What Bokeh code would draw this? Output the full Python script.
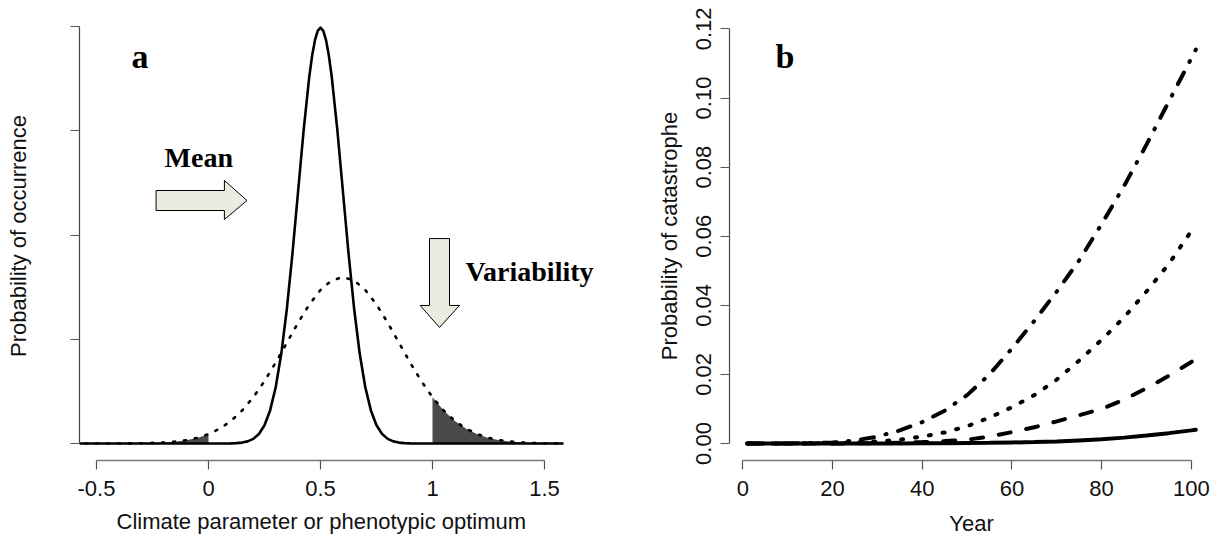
from bokeh.plotting import figure
from bokeh.layouts import row
from bokeh.models import FixedTicker, Label, Range1d, Title
from bokeh.embed import file_html
from bokeh.resources import INLINE

# ---------------- Panel a data ----------------
# narrow (solid) distribution: phenotypic tolerance
optimum_x = [-0.6, 0.1, 0.125, 0.15, 0.175, 0.2, 0.225, 0.25, 0.275, 0.3, 0.325, 0.35,
             0.375, 0.4, 0.425, 0.45, 0.4625, 0.475, 0.4875, 0.5, 0.5125, 0.525, 0.5375,
             0.55, 0.575, 0.6, 0.625, 0.65, 0.675, 0.7, 0.725, 0.75, 0.775, 0.8, 0.825,
             0.85, 0.875, 0.9, 1.585]
optimum_y = [0.0, 0.001, 0.0035, 0.0087, 0.0203, 0.0443, 0.0909, 0.1753, 0.3174, 0.5399,
             0.8628, 1.2952, 1.8265, 2.4197, 3.0114, 3.5207, 3.7186, 3.8667, 3.9584,
             3.9894, 3.9584, 3.8667, 3.7186, 3.5207, 3.0114, 2.4197, 1.8265, 1.2952,
             0.8628, 0.5399, 0.3174, 0.1753, 0.0909, 0.0443, 0.0203, 0.0087, 0.0035,
             0.001, 0.0]
# wide (dotted) distribution: climate parameter
climate_x = [-0.6, -0.5, -0.4, -0.3, -0.2, -0.15, -0.1, -0.05, 0.0, 0.05, 0.1, 0.15, 0.2,
             0.25, 0.3, 0.35, 0.4, 0.45, 0.5, 0.55, 0.6, 0.65, 0.7, 0.75, 0.8, 0.85,
             0.9, 0.95, 1.0, 1.05, 1.1, 1.15, 1.2, 1.25, 1.3, 1.35, 1.4, 1.45, 1.5, 1.585]
climate_y = [0.0, 0.0001, 0.0005, 0.0024, 0.0095, 0.018, 0.032, 0.054, 0.090, 0.142,
             0.216, 0.316, 0.444, 0.599, 0.777, 0.968, 1.159, 1.333, 1.473, 1.564,
             1.596, 1.564, 1.473, 1.333, 1.159, 0.968, 0.777, 0.599, 0.444, 0.316,
             0.216, 0.142, 0.090, 0.054, 0.032, 0.018, 0.0095, 0.0049, 0.0024, 0.0006]
a_xticks = [-0.5, 0, 0.5, 1, 1.5]
a_xtick_labels = ["-0.5", "0", "0.5", "1", "1.5"]
a_yticks = [0, 1, 2, 3, 4]
lower_limit = 0.0
upper_limit = 1.0

# ---------------- Panel b data ----------------
years = [1, 10, 20, 25, 30, 35, 40, 45, 50, 55, 60, 65, 70, 75, 80, 85, 90, 95, 100, 101]
p_solid = [0, 0, 0, 0, 0, 0, 0.00005, 0.0001, 0.00015, 0.0002, 0.0003, 0.0004, 0.0006,
           0.0009, 0.0012, 0.0017, 0.0023, 0.0030, 0.0038, 0.0040]
p_dashed = [0, 0, 0, 0.00005, 0.0001, 0.0002, 0.0004, 0.0007, 0.0011, 0.0020, 0.0033,
            0.0047, 0.0064, 0.0082, 0.0100, 0.0127, 0.0160, 0.0196, 0.0236, 0.0245]
p_dotted = [0, 0, 0.0001, 0.0003, 0.0006, 0.0011, 0.0020, 0.0032, 0.0050, 0.0075, 0.0105,
            0.0140, 0.0185, 0.0240, 0.0300, 0.0365, 0.0440, 0.0520, 0.0615, 0.0630]
p_dotdash = [0, 0, 0.0003, 0.0009, 0.0020, 0.0038, 0.0062, 0.0095, 0.0140, 0.0200, 0.0275,
             0.0355, 0.0440, 0.0530, 0.0635, 0.0745, 0.0865, 0.0990, 0.1115, 0.1140]
b_xticks = [0, 20, 40, 60, 80, 100]
b_yticks = [0.0, 0.02, 0.04, 0.06, 0.08, 0.10, 0.12]
b_ytick_labels = ["0.00", "0.02", "0.04", "0.06", "0.08", "0.10", "0.12"]

# ---------------- styling helpers ----------------
SANS = "Liberation Sans"
SERIF = "Liberation Serif"


def style_axes(p):
    p.outline_line_color = None
    p.xgrid.visible = False
    p.ygrid.visible = False
    p.background_fill_color = "white"
    p.border_fill_color = "white"
    for ax in (p.xaxis[0], p.yaxis[0]):
        ax.major_tick_in = 0
        ax.major_tick_out = 9
        ax.minor_tick_line_color = None
        ax.major_label_text_font = SANS
        ax.major_label_text_font_size = "22px"
        ax.major_label_text_color = "#111111"
        ax.axis_label_text_font = SANS
        ax.axis_label_text_font_size = "22px"
        ax.axis_label_text_font_style = "normal"
        ax.axis_label_text_color = "#111111"
    xa = p.xaxis[0]
    xa.axis_line_color = "#777777"
    xa.axis_line_width = 1.5
    xa.major_tick_line_color = "#555555"
    xa.major_tick_line_width = 1.2
    xa.major_label_standoff = 11
    xa.axis_label_standoff = 12
    ya = p.yaxis[0]
    ya.axis_line_color = "#444444"
    ya.axis_line_width = 1.2
    ya.major_tick_line_color = "#555555"
    ya.major_tick_line_width = 1.2


# ---------------- Panel a ----------------
pa = figure(frame_width=524, frame_height=449,
            x_range=Range1d(-0.5759, 1.7634), y_range=Range1d(-0.163, 4.144),
            min_border_left=79, min_border_right=0, min_border_top=11, min_border_bottom=76,
            output_backend="svg", toolbar_location=None,
            y_axis_label="Probability of occurrence")
style_axes(pa)
pa.xaxis[0].ticker = FixedTicker(ticks=a_xticks)
pa.xaxis[0].major_label_overrides = {t: l for t, l in zip(a_xticks, a_xtick_labels)}
pa.xaxis[0].bounds = (a_xticks[0], a_xticks[-1])
pa.yaxis[0].ticker = FixedTicker(ticks=a_yticks)
pa.yaxis[0].major_label_overrides = {t: "" for t in a_yticks}
pa.yaxis[0].major_label_standoff = 0
pa.yaxis[0].axis_label_standoff = 40
pa.yaxis[0].bounds = (a_yticks[0], a_yticks[-1])
# x-axis title centred under the data region (frame is wider to leave room for text)
pa.add_layout(Title(text="Climate parameter or phenotypic optimum", align="left",
                    offset=37, standoff=17, text_font=SANS, text_font_size="22px",
                    text_font_style="normal", text_color="#111111"), "below")

lo_x = [x for x in climate_x if x <= lower_limit]
lo_y = [y for x, y in zip(climate_x, climate_y) if x <= lower_limit]
hi_x = [x for x in climate_x if x >= upper_limit]
hi_y = [y for x, y in zip(climate_x, climate_y) if x >= upper_limit]
pa.varea(x=lo_x, y1=[0] * len(lo_x), y2=lo_y, fill_color="#4a4a4a")
pa.varea(x=hi_x, y1=[0] * len(hi_x), y2=hi_y, fill_color="#4a4a4a")
pa.line(climate_x, climate_y, line_color="black", line_width=2.6, line_dash="2 9",
        line_cap="round")
pa.line(optimum_x, optimum_y, line_color="black", line_width=2.6, line_join="round")

# annotation arrows (data units of panel a)
mean_arrow_x = [-0.234, 0.071, 0.071, 0.172, 0.071, 0.071, -0.234]
mean_arrow_y = [2.235, 2.235, 2.149, 2.331, 2.523, 2.427, 2.427]
var_arrow_x = [0.9866, 1.0759, 1.0759, 1.1205, 1.0313, 0.9451, 0.9866]
var_arrow_y = [1.966, 1.966, 1.324, 1.324, 1.113, 1.324, 1.324]
pa.patch(mean_arrow_x, mean_arrow_y, fill_color="#ecebe0", line_color="black", line_width=1)
pa.patch(var_arrow_x, var_arrow_y, fill_color="#ecebe0", line_color="black", line_width=1)

pa.add_layout(Label(x=-0.344, y=3.715, text="a", text_font=SERIF, text_font_style="bold",
                    text_font_size="34px", text_baseline="alphabetic", text_align="left",
                    text_color="black"))
pa.add_layout(Label(x=-0.196, y=2.747, text="Mean", text_font=SERIF, text_font_style="bold",
                    text_font_size="28px", text_baseline="alphabetic", text_align="left",
                    text_color="black"))
pa.add_layout(Label(x=1.147, y=1.653, text="Variability", text_font=SERIF,
                    text_font_style="bold", text_font_size="28px",
                    text_baseline="alphabetic", text_align="left", text_color="black"))

# ---------------- Panel b ----------------
pb = figure(frame_width=484, frame_height=449,
            x_range=Range1d(-2.966, 104.95), y_range=Range1d(-0.00492, 0.12504),
            min_border_left=126, min_border_right=0, min_border_top=11, min_border_bottom=76,
            output_backend="svg", toolbar_location=None,
            x_axis_label="Year", y_axis_label="Probability of catastrophe")
style_axes(pb)
pb.xaxis[0].ticker = FixedTicker(ticks=b_xticks)
pb.xaxis[0].bounds = (b_xticks[0], b_xticks[-1])
pb.yaxis[0].ticker = FixedTicker(ticks=b_yticks)
pb.yaxis[0].major_label_overrides = {t: l for t, l in zip(b_yticks, b_ytick_labels)}
pb.yaxis[0].major_label_orientation = "parallel"
pb.yaxis[0].major_label_standoff = 9
pb.yaxis[0].axis_label_standoff = 12
pb.yaxis[0].bounds = (b_yticks[0], b_yticks[-1])

pb.line(years, p_dotdash, line_color="black", line_width=4, line_dash="13 12 1 12",
        line_cap="round")
pb.line(years, p_dotted, line_color="black", line_width=4, line_dash="2 12",
        line_cap="round")
pb.line(years, p_dashed, line_color="black", line_width=4, line_dash="12 16",
        line_cap="round")
pb.line(years, p_solid, line_color="black", line_width=4, line_cap="round")

pb.add_layout(Label(x=7.3, y=0.1121, text="b", text_font=SERIF, text_font_style="bold",
                    text_font_size="34px", text_baseline="alphabetic", text_align="left",
                    text_color="black"))

layout = row(pa, pb)
open("out.html", "w").write(file_html(layout, INLINE))
